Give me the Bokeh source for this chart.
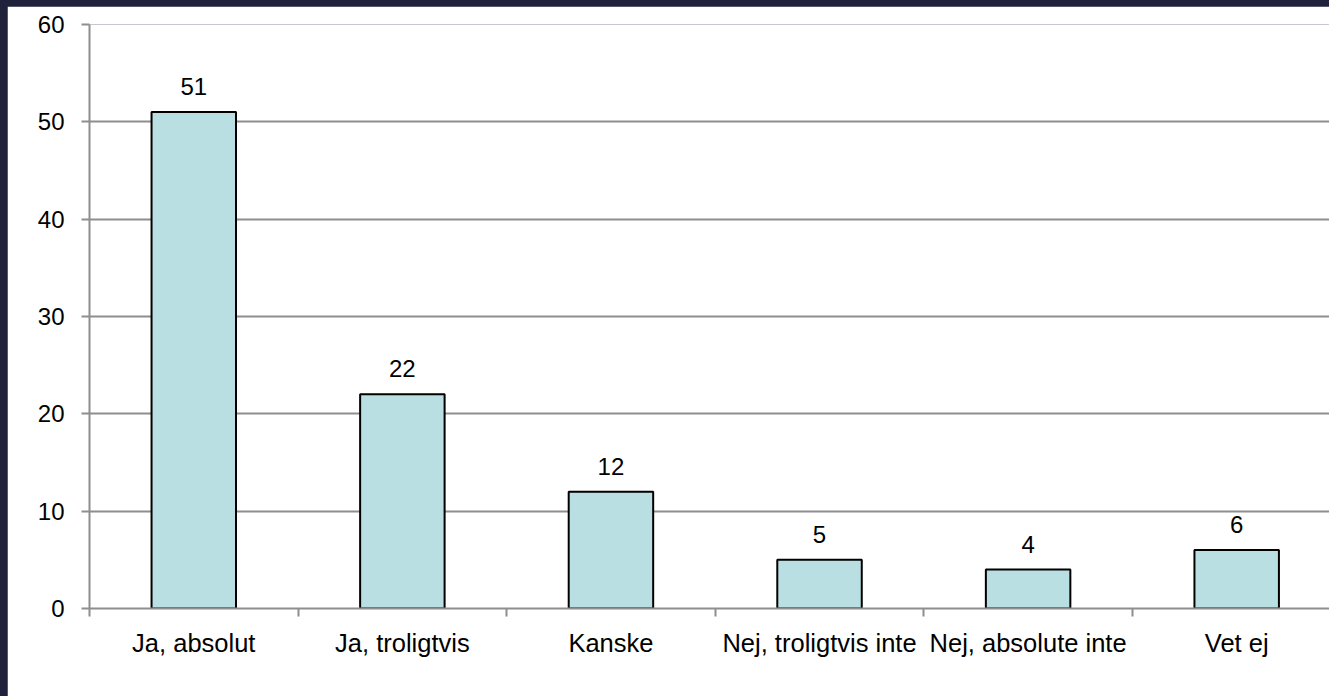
from bokeh.plotting import figure
from bokeh.models import ColumnDataSource, FixedTicker, LabelSet, GlobalInlineStyleSheet, Range1d
from bokeh.core.properties import value
from bokeh.embed import file_html
from bokeh.resources import INLINE

categories = ["Ja, absolut", "Ja, troligtvis", "Kanske", "Nej, troligtvis inte", "Nej, absolute inte", "Vet ej"]
values = [51, 22, 12, 5, 4, 6]
y_ticks = [0, 10, 20, 30, 40, 50, 60]

FONT = "Liberation Sans"
GRID = "#8e8e8e"

xs = list(range(len(categories)))
src = ColumnDataSource(dict(x=xs, top=values, label=[str(v) for v in values]))

p = figure(width=1322, height=690, output_backend="svg", toolbar_location=None,
           x_range=Range1d(-0.5, 5.445), y_range=Range1d(0, 60),
           min_border_left=82, min_border_right=0, min_border_top=18, min_border_bottom=88)
p.stylesheets = [GlobalInlineStyleSheet(
    css="html, body { background-color: #20213a !important; } body { padding: 6px 0 0 7px !important; margin: 0 !important; }")]
p.background_fill_color = "white"
p.border_fill_color = "white"
p.outline_line_color = None

p.vbar(x="x", top="top", bottom=0, width=0.405, source=src,
       fill_color="#b9dfe2", line_color="black", line_width=2)

labels = LabelSet(x="x", y="top", text="label", source=src, text_align="center",
                  text_baseline="alphabetic", y_offset=17, text_font=value(FONT),
                  text_font_size="24px", text_color="black")
p.add_layout(labels)

# x axis
p.xaxis.ticker = FixedTicker(ticks=xs, minor_ticks=[i - 0.5 for i in range(len(categories) + 1)])
p.xaxis.major_label_overrides = {i: c for i, c in enumerate(categories)}
p.xaxis.major_tick_line_color = None
p.xaxis.major_tick_out = 0
p.xaxis.major_tick_in = 0
p.xaxis.minor_tick_line_color = GRID
p.xaxis.minor_tick_line_width = 2
p.xaxis.minor_tick_out = 8
p.xaxis.minor_tick_in = 0
p.xaxis.axis_line_color = GRID
p.xaxis.axis_line_width = 2
p.xaxis.major_label_standoff = 12
p.xaxis.major_label_text_font = FONT
p.xaxis.major_label_text_font_size = "25.5px"
p.xaxis.major_label_text_color = "black"

# y axis
p.yaxis.ticker = FixedTicker(ticks=y_ticks)
p.yaxis.major_tick_line_color = GRID
p.yaxis.major_tick_line_width = 2
p.yaxis.major_tick_out = 8
p.yaxis.major_tick_in = 0
p.yaxis.minor_tick_line_color = None
p.yaxis.axis_line_color = GRID
p.yaxis.axis_line_width = 2
p.yaxis.major_label_standoff = 17
p.yaxis.major_label_text_font = FONT
p.yaxis.major_label_text_font_size = "24px"
p.yaxis.major_label_text_color = "black"

p.xgrid.grid_line_color = None
p.ygrid.ticker = FixedTicker(ticks=y_ticks)
p.ygrid.grid_line_color = GRID
p.ygrid.grid_line_width = 2

open("out.html", "w").write(file_html(p, INLINE))
